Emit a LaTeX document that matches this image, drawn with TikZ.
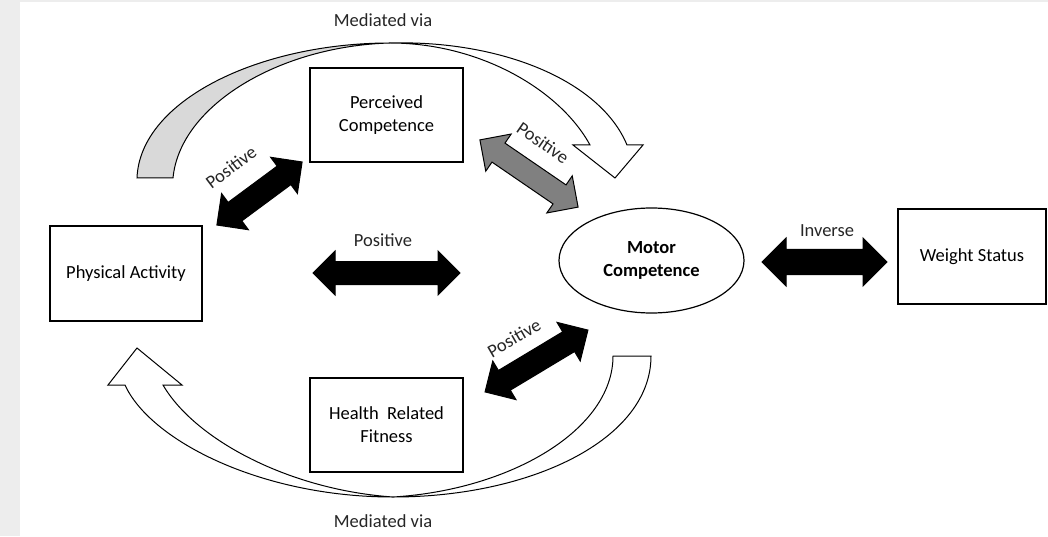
\documentclass[tikz,border=0pt]{standalone}
\usepackage{fontspec}
\setmainfont{Carlito}
\usetikzlibrary{shapes.geometric,shapes.arrows}

\begin{document}
\begin{tikzpicture}[x=1pt, y=1pt,
    entity/.style={rectangle, draw, line width=1.2pt, minimum width=152pt, minimum height=95pt, align=center, font=\fontsize{18.5}{23}\selectfont},
    blk/.style={double arrow, draw=black, fill=#1, line width=1pt, inner xsep=0pt, inner ysep=11pt, double arrow head extend=11pt},
    blk/.default=black,
    lbl/.style={font=\fontsize{18.5}{22}\selectfont, text=black!85},
    band/.style={draw=black, line width=1pt, line join=miter},
  ]

    % page
    \useasboundingbox (0,0) rectangle (1048,536);
    \fill[black!7] (0,0) rectangle (1048,536);
    \fill[white] (20,0) rectangle (1048,534);

    % Entities
    \node[entity] (pa) at (126,262.5) {Physical Activity};
    \node[entity, minimum width=153pt, minimum height=94pt] (pc) at (386.5,421) {Perceived\\Competence};
    \node[entity, minimum width=153pt, minimum height=94pt] (hrf) at (386.5,111) {Health~ Related\\Fitness};
    \node[ellipse, draw, line width=1.2pt, minimum width=185pt, minimum height=105pt, align=center, font=\bfseries\fontsize{18.5}{23}\selectfont] (mc) at (651.5,275.5) {Motor\\Competence};
    \node[entity, minimum width=148pt] (ws) at (972,279.5) {Weight Status};

    % Mediated via (top): back face, then front face with head
    \filldraw[band, fill=black!15] (137,358) .. controls (140,436) and (260,493) .. (390,493) .. controls (280,490) and (180,431) .. (173,358) -- cycle;
    \filldraw[band, fill=white] (390,493) .. controls (480,493) and (560,446) .. (590,391) -- (573,391) -- (615,358) -- (643,391) -- (627,391) .. controls (600,456) and (500,496) .. (390,493) -- cycle;
    \node[lbl] (medtop) at (383,516) {Mediated via};

    % Mediated via (bottom)
    \filldraw[band, fill=white] (163,151) .. controls (195,96) and (290,46) .. (393,39) .. controls (510,46) and (613,106) .. (613,180) -- (651,180) .. controls (651,96) and (530,39) .. (393,39) .. controls (260,39) and (150,96) .. (125,151) -- (108,151) -- (137,188) -- (182,151) -- cycle;
    \node[lbl] (medbot) at (383,15) {Mediated via};

    % Block arrows
    \node[blk, minimum height=147pt, double arrow head extend=10.5pt] (pa-mc) at (386.5,263) {};
    \node[lbl] (l-pamc) at (383,296) {Positive};

    \node[blk, minimum height=125pt, inner ysep=12pt, double arrow head extend=11.5pt] (mc-ws) at (824.5,274) {};
    \node[lbl] (l-mcws) at (827,305) {Inverse};

    \node[blk, minimum height=106pt, rotate=36.5] (pa-pc) at (259.5,342.5) {};
    \node[lbl, rotate=37] (l-papc) at (231,369) {Positive};

    \node[blk=black!50, minimum height=119pt, rotate=-34.4] (pc-mc) at (529,362.5) {};
    \node[lbl, rotate=-34.5] (l-pcmc) at (543,393) {Positive};

    \node[blk, minimum height=120pt, rotate=31] (hrf-mc) at (536.5,175) {};
    \node[lbl, rotate=30] (l-hrfmc) at (514,198) {Positive};

  \end{tikzpicture}
\end{document}
